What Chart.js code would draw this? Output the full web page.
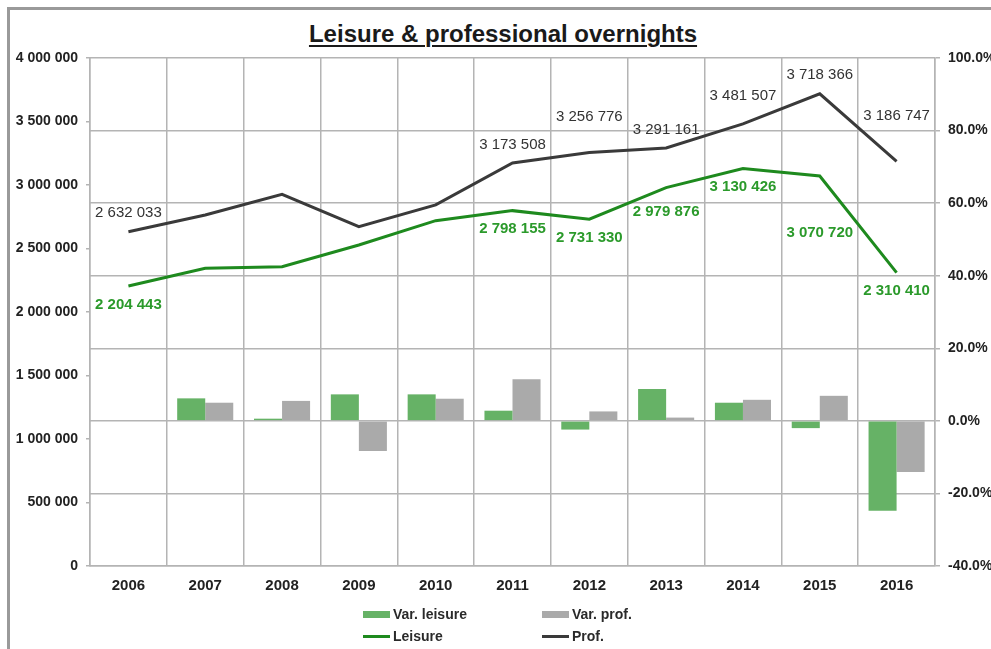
<!DOCTYPE html>
<html>
<head>
<meta charset="utf-8">
<script src="https://cdn.jsdelivr.net/npm/chart.js@4/dist/chart.umd.min.js"></script>
<style>
  body { margin: 0; background: #fff; font-family: "Liberation Sans", Arial, sans-serif; }
  #wrap { position: relative; width: 991px; height: 649px; overflow: hidden; }
  #frame { position: absolute; left: 7px; top: 7px; width: 1000px; height: 700px;
           border-left: 3px solid #9a9a9a; border-top: 3px solid #9a9a9a; }
  #title { position: absolute; left: 0; width: 1006px; top: 20px; text-align: center;
           font-weight: bold; font-size: 24px; line-height: 28px; color: #1a1a1a;
           text-decoration: underline; text-decoration-thickness: 2px; text-underline-offset: 3px; }
  canvas { position: absolute; left: 0; top: 0; }
  #legend { position: absolute; left: 363px; top: 603px; display: grid;
            grid-template-columns: 179px 179px; grid-auto-rows: 22px; }
  .item { display: flex; align-items: center; font-weight: bold; font-size: 14px; color: #2a2a2a; }
  .sw { width: 27px; margin-right: 3px; }
</style>
</head>
<body>
<div id="wrap">
  <div id="frame"></div>
  <div id="title">Leisure &amp; professional overnights</div>
  <canvas id="chart" width="991" height="649"></canvas>
  <div id="legend"></div>
</div>
<script>
const YEARS = ['2006', '2007', '2008', '2009', '2010', '2011', '2012', '2013', '2014', '2015', '2016'];
const LEISURE = [2204443, 2344000, 2357000, 2528000, 2719000, 2798155, 2731330, 2979876, 3130426, 3070720, 2310410];
const PROF = [2632033, 2764000, 2927000, 2672000, 2843000, 3173508, 3256776, 3291161, 3481507, 3718366, 3186747];
const VAR_LEISURE = [null, 6.2, 0.6, 7.3, 7.3, 2.8, -2.4, 8.8, 5.0, -2.0, -24.8];
const VAR_PROF = [null, 5.0, 5.5, -8.3, 6.1, 11.5, 2.6, 0.9, 5.8, 6.9, -14.1];
const LABELLED_YEARS = ['2006', '2011', '2012', '2013', '2014', '2015', '2016'];

const FONT = '"Liberation Sans", Arial, sans-serif';
const GRID = '#b4b4b4';

function spaced(v) {
    return String(v).replace(/\B(?=(\d{3})+(?!\d))/g, ' ');
}

// value labels above the Prof line, below the Leisure line
const pointLabels = {
    id: 'pointLabels',
    afterDatasetsDraw(chart, args, opts) {
        const ctx = chart.ctx;
        chart.data.datasets.forEach((ds, i) => {
            if (ds.type !== 'line') return;
            const meta = chart.getDatasetMeta(i);
            const nudge = opts.nudge[ds.label] || {};
            ctx.save();
            ctx.font = (ds.labelBold ? 'bold ' : '') + '15px ' + FONT;
            ctx.fillStyle = ds.labelColor;
            ctx.textAlign = 'center';
            ctx.textBaseline = ds.labelBelow ? 'top' : 'bottom';
            meta.data.forEach((pt, j) => {
                if (!LABELLED_YEARS.includes(YEARS[j])) return;
                const gap = 11 + (nudge[YEARS[j]] || 0);
                const y = ds.labelBelow ? pt.y + gap : pt.y - gap;
                ctx.fillText(spaced(ds.data[j]), pt.x, y);
            });
            ctx.restore();
        });
    }
};

const ctx = document.getElementById('chart').getContext('2d');
const chart = new Chart(ctx, {
    data: {
        labels: YEARS,
        datasets: [
            { type: 'bar', label: 'Var. leisure', data: VAR_LEISURE, yAxisID: 'y1',
              backgroundColor: '#66b266', order: 2, barPercentage: 1, categoryPercentage: 0.73 },
            { type: 'bar', label: 'Var. prof.', data: VAR_PROF, yAxisID: 'y1',
              backgroundColor: '#aaaaaa', order: 2, barPercentage: 1, categoryPercentage: 0.73 },
            { type: 'line', label: 'Leisure', data: LEISURE, yAxisID: 'y',
              borderColor: '#1e8a1e', borderWidth: 3, pointRadius: 0, tension: 0, order: 1,
              labelColor: '#2b9a2b', labelBold: true, labelBelow: true },
            { type: 'line', label: 'Prof.', data: PROF, yAxisID: 'y',
              borderColor: '#3a3a3a', borderWidth: 3, pointRadius: 0, tension: 0, order: 0,
              labelColor: '#333333', labelBold: false, labelBelow: false }
        ]
    },
    options: {
        responsive: false,
        animation: false,
        layout: { padding: { top: 58, bottom: 53, left: 0, right: 0 } },
        plugins: {
            legend: { display: false },
            title: { display: false },
            tooltip: { enabled: false },
            pointLabels: {
                // extra distance (px) for labels that were moved off the line
                nudge: {
                    'Prof.': { '2012': 17, '2014': 9, '2016': 27 },
                    'Leisure': { '2013': 6, '2015': 38 }
                }
            }
        },
        scales: {
            x: {
                offset: true,
                grid: { offset: true, color: GRID, lineWidth: 1.5, drawTicks: false },
                border: { color: GRID, width: 1.5 },
                ticks: { color: '#222', padding: 11, font: { family: FONT, size: 15, weight: 'bold' } },
                afterFit(axis) { axis.height = 30; }
            },
            y: {
                position: 'left',
                min: 0, max: 4000000,
                grid: { drawOnChartArea: false, color: GRID, lineWidth: 1.5, tickLength: 4 },
                border: { color: GRID, width: 1.5 },
                ticks: { stepSize: 500000, color: '#222', padding: 8,
                         font: { family: FONT, size: 14, weight: 'bold' },
                         callback: v => spaced(v) },
                afterFit(axis) { axis.width = 90; }
            },
            y1: {
                position: 'right',
                min: -40, max: 100,
                grid: { color: GRID, lineWidth: 1.5, tickLength: 5 },
                border: { color: GRID, width: 1.5 },
                ticks: { stepSize: 20, color: '#222', padding: 8,
                         font: { family: FONT, size: 14, weight: 'bold' },
                         callback: v => v.toFixed(1) + '%' },
                afterFit(axis) { axis.width = 56; }
            }
        }
    },
    plugins: [pointLabels]
});

// legend in two rows, built from the datasets
const legend = document.getElementById('legend');
chart.data.datasets.forEach(ds => {
    const item = document.createElement('div');
    item.className = 'item';
    const sw = document.createElement('span');
    sw.className = 'sw';
    if (ds.type === 'bar') {
        sw.style.height = '7px';
        sw.style.background = ds.backgroundColor;
    } else {
        sw.style.height = '3px';
        sw.style.background = ds.borderColor;
    }
    item.appendChild(sw);
    item.appendChild(document.createTextNode(ds.label));
    legend.appendChild(item);
});
</script>
</body>
</html>
